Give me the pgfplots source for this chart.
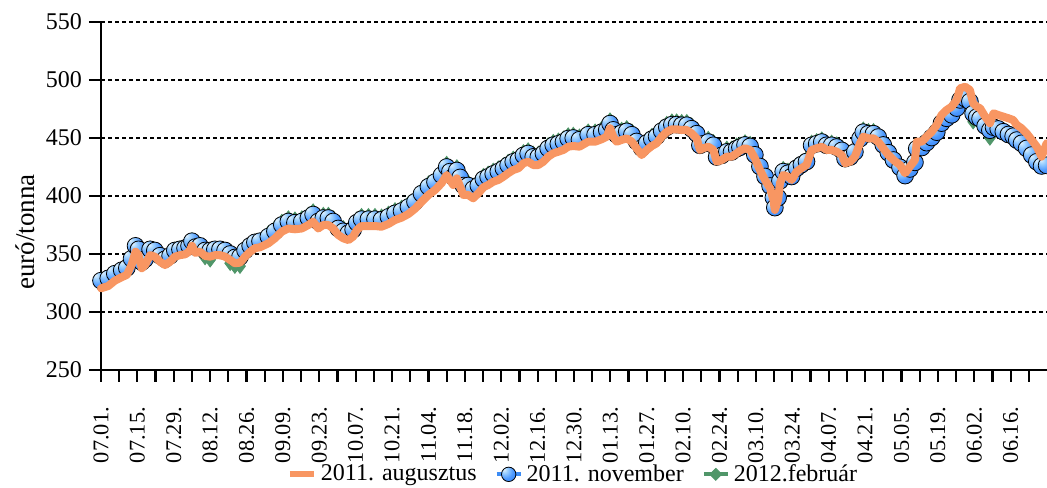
\documentclass[border=0pt]{standalone}
\usepackage{fontspec}
\setmainfont{Liberation Serif}
\usepackage{pgfplots}
\pgfplotsset{compat=1.18}
\usepackage{pgfplotstable}
\usetikzlibrary{calc}
\definecolor{aug}{RGB}{248,150,98}
\definecolor{nov}{RGB}{60,140,245}
\definecolor{feb}{RGB}{80,150,105}
\pgfdeclareradialshading{nballsh}{\pgfqpoint{-18bp}{18bp}}{rgb(0bp)=(0.9,0.96,1); rgb(10bp)=(0.62,0.82,1); rgb(25bp)=(0.3,0.6,1); rgb(45bp)=(0.18,0.48,0.95); rgb(55bp)=(0.08,0.3,0.75); rgb(60bp)=(0.04,0.2,0.55)}
\pgfdeclareplotmark{nball}{\shade[shading=nballsh] (0pt,0pt) circle (\pgfplotmarksize);}

\pgfplotstableread{
x aug nov feb
0 320.4 327 328
2.0 322.4 329 330
3.8 327 333 334
5.7 330 336 337
7.1 332 338 339
8.4 340.5 346 347
9.5 352 357 358
10.3 349 354 355
11.2 337.7 343 344
12.1 340.5 345.5 346.5
13.5 349 354 355
14.8 347.7 353 354
16.2 343.4 348.5 349.5
17.6 340.5 345.5 346.5
19.0 343.4 348.5 349.5
20.3 347.7 353 354
21.7 349 354 355
23.1 349.7 355 356
24.2 352 357 358
25.0 357 361 362
26.0 351 356 357
27.2 352 357 358
28.6 348.3 353 347
30.0 347.7 353 345
31.3 349 354 352
32.7 349 354 352
34.1 347.7 353 351
35.5 344.8 350 342
36.8 342 347 339.5
38.2 342.5 347.5 339.5
39.6 347.7 353 352
41.0 352 357 358
42.3 355 360 361
43.7 355.8 361 362
46.0 359.2 365 368
47.8 363.5 369.5 372.5
49.7 369.3 375 378
51.5 372 378 381
53.3 371.3 377 380
55.2 372 378 381
57.0 375 381 384
58.3 377.9 384 387
59.7 372 378 381
61.1 375 381 384
62.5 375 381 384
63.8 372 378 381
65.2 366.4 372 375
66.6 363.5 369.5 372.5
68.0 362 368 371
69.3 365 371 374
70.3 370.7 377 380
71.6 374.1 380 383
73.5 374.1 380 383
75.3 374.1 380 383
77.1 373.5 379.5 382.5
79.0 375.9 382 385
80.8 379.3 385 388
82.6 381.3 387 390
84.5 384.5 390.5 393.5
86.3 389 395 398
88.1 395 402 405
90.0 400.9 408 411
91.8 405.2 412 415
93.6 411 418 421
95.0 418 425 428
95.9 413.8 421 424
96.8 409.5 416.5 419.5
97.8 415.2 422 425
98.7 408 416 419
99.6 400.9 409 412
100.9 400.9 409 412
102.3 398 406 409
103.7 402.3 409 412
105.1 407.5 414.5 417.5
106.4 409.5 416.5 419.5
107.8 412.3 419 422
109.2 413.8 421 424
110.6 416.6 423.6 426.6
111.9 419.6 426.6 429.6
113.3 422.4 429.4 432.4
114.7 423.9 431 434
116.1 428.2 435 438
117.4 429.6 436.6 439.6
118.8 426.7 433.7 436.7
120.2 426.7 433.7 436.7
121.6 429.6 436.6 439.6
122.9 433.9 441 444
124.3 436.8 443.8 446.8
125.7 438.2 445 448
127.1 439.7 446.7 449.7
128.4 442.5 449.5 452.5
129.8 443.1 450 453
131.5 442.5 448.5 451.5
133.9 446.8 452.8 455.8
135.8 446.8 452.8 455.8
137.6 448.9 455 458
139.0 451.1 457 460
139.9 458.4 462.4 465.4
140.8 451.1 457 460
141.7 446.8 452.8 455.8
143.1 448.3 454.3 457.3
144.5 449.7 455.7 458.7
145.9 446.8 452.8 455.8
147.2 441.1 447 450
148.6 435.3 441.3 444.3
150.0 439.7 445.7 448.7
151.4 443.1 449 452
152.7 445.4 451.4 454.4
154.1 451.1 456 459
155.5 455.4 459.4 462.4
156.9 457.5 461.5 464.5
158.2 457.5 461.5 464.5
159.6 456.9 461 464
161.0 456.9 461 464
162.3 454 458 461
163.7 449.7 453.7 456.7
164.6 439.7 443.7 446.7
165.5 441.1 445 448
166.9 442.5 446.5 449.5
168.3 439.7 443.7 446.7
169.2 429.6 433.6 436.6
170.6 431 435 438
172.0 433.9 438 441
173.3 433.9 438 441
174.7 436.8 440.8 443.8
175.6 439 442 444.5
177.0 441.1 444 446.5
178.4 439.7 442.7 445.2
179.7 432.5 435.5 438
181.1 422.4 425.4 427.9
182.5 413.8 416.8 418
183.9 406.6 408.6 409.6
184.8 396.6 398.6 399.6
185.2 388 390 391
186.1 396.6 398.6 399.6
186.6 411 413 414
187.5 418.1 421 423.5
188.8 416.6 419.6 422.1
189.8 413.8 416.8 419.3
191.2 421 424 426.5
192.5 423.9 427 429.5
193.9 426.7 429.7 432.2
195.3 439.7 443.7 446.2
196.7 441.1 445 447.5
198.1 442.5 446.5 449
199.4 439.7 443.7 446.2
200.8 439.7 443.7 446.2
202.2 438.2 442.2 444.7
203.6 435.3 439.3 441.8
204.5 428.2 432.2 434.7
205.9 429.6 433.6 436.1
207.2 433.9 438 440.5
208.6 445.4 449.4 451.9
209.5 451.1 455 457.5
210.9 449.7 453.7 456.2
212.3 449.7 453.7 456.2
213.6 446.8 450.8 453.3
215.0 441.1 444 446.5
216.4 435.3 437.3 439.8
217.8 431 431 433.5
219.6 426.7 424.7 425.7
221.0 419.6 417.6 418.6
222.3 425.3 423.3 424.3
223.7 431 429 430
224.2 446.8 440.8 441.8
225.6 446.8 441.8 442.8
226.9 451.1 446 447
228.3 455.4 450.4 451.4
229.7 461.2 455 456
231.0 469.8 462.8 463.8
232.4 474.1 467 468
233.8 477 470 471
235.2 482.8 475.8 476.8
236.1 492.8 482.8 483.8
237.5 494.2 484 485
238.8 491.4 481.4 482.4
239.7 479.9 471 464
240.7 477 468 466
241.6 475.6 466.6 463.5
243.0 468.4 460.4 457
244.3 462.7 456.7 450
245.3 471.3 459.3 456
246.6 469.8 457.8 458.8
248.0 468.4 455.4 456.4
249.4 467 453 454
250.7 465.5 451.5 452.5
251.7 461.2 448.2 449.2
253.0 458.4 445.4 446.4
254.4 454 441 442
255.8 448.3 435.3 436.3
257.2 442.5 429.5 430.5
258.5 433.9 425.9 426.9
259.9 445.4 426.4 427.4
}\data

\begin{document}
\begin{tikzpicture}
\begin{axis}[
  scale only axis, width=473pt, height=174pt,
  xmin=0, xmax=260, ymin=250, ymax=550,
  axis lines*=left,
  axis line style={line width=1.2pt, black},
  tick align=outside,
  major tick length=6pt, minor tick length=6pt,
  every tick/.style={black, line width=1.1pt},
  ytick={250,300,...,550},
  xtick={0,10,...,250},
  minor xtick={5,15,...,255},
  xticklabels={07.01.,07.15.,07.29.,08.12.,08.26.,09.09.,09.23.,10.07.,10.21.,11.04.,11.18.,12.02.,12.16.,12.30.,01.13.,01.27.,02.10.,02.24.,03.10.,03.24.,04.07.,04.21.,05.05.,05.19.,06.02.,06.16.},
  xticklabel style={rotate=90, anchor=east, font=\fontsize{11.2}{13}\selectfont},
  xticklabel shift=9pt,
  yticklabel style={font=\fontsize{12}{14}\selectfont},
  /pgf/number format/assume math mode=true,
  ymajorgrids,
  grid style={black, line width=1pt, dash pattern=on 2pt off 1.5pt},
  ylabel={euró/tonna},
  ylabel style={font=\fontsize{13.5}{15}\selectfont, at={(axis description cs:-0.080,0.397)}, anchor=center},
  clip=false,
  clip marker paths=true,
  legend columns=3,
  legend style={at={(axis description cs:0.5,0)}, anchor=north, yshift=-43pt, draw=none, fill=none,
    font=\fontsize{12}{14}\selectfont, /tikz/every even column/.append style={column sep=7pt}},
]
\coordinate (ll) at (rel axis cs:0,0);
\coordinate (ur) at (rel axis cs:1,1);
\addlegendimage{legend image code/.code={\draw[aug, line width=3pt] (0pt,0pt) -- (12pt,0pt);}}
\addlegendentry{2011. augusztus}
\addlegendimage{legend image code/.code={\draw[nov, line width=2pt] (0pt,0pt) -- (12pt,0pt); \shade[shading=nballsh] (6pt,0pt) circle (3.6pt);}}
\addlegendentry{2011. november}
\addlegendimage{legend image code/.code={\draw[feb, line width=2pt] (0pt,0pt) -- (12pt,0pt); \fill[feb] (6pt,3pt) -- (9pt,0pt) -- (6pt,-3pt) -- (3pt,0pt) -- cycle;}}
\addlegendentry{2012.február}

\addplot[forget plot, only marks, mark=diamond*, mark size=3.6pt, mark options={fill=feb, draw=feb}] table[x=x, y=feb] {\data};
\addplot[forget plot, only marks, mark=nball, mark size=4.2pt] table[x=x, y=nov] {\data};
\addplot[forget plot, aug, line width=4pt, line join=round, line cap=round, no marks] table[x=x, y=aug] {\data};
\end{axis}
\pgfresetboundingbox
\path ($(ll)+(-50.5pt,-59pt)$) rectangle ($(ur)+(0pt,11pt)$);
\end{tikzpicture}
\end{document}
